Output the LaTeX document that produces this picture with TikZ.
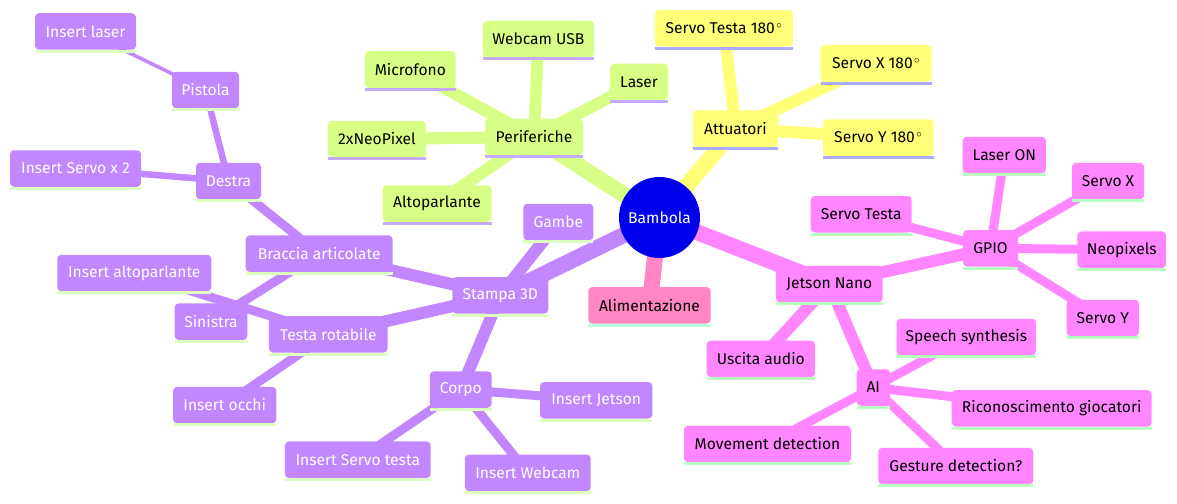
\documentclass[tikz,border=0pt]{standalone}
\usepackage{fontspec}
\setmainfont{Fira Sans}
\usetikzlibrary{backgrounds}
\definecolor{rootBlue}{HTML}{0000EC}
\definecolor{perGreen}{HTML}{D7FF86}
\definecolor{perLine}{HTML}{C6AAFF}
\definecolor{attYellow}{HTML}{FFFF78}
\definecolor{attLine}{HTML}{AAAAFF}
\definecolor{jetPink}{HTML}{FF86FF}
\definecolor{jetLine}{HTML}{B8FFC0}
\definecolor{aliRose}{HTML}{FF86C2}
\definecolor{aliLine}{HTML}{B8FFE0}
\definecolor{staPurple}{HTML}{C286FF}
\definecolor{staLine}{HTML}{DCFFC0}
\newcommand{\degr}{\kern1.5pt$^{\circ}$}
\begin{document}
\begin{tikzpicture}[x=1pt,y=-1pt, every node/.style={font=\fontsize{15.6}{18}\selectfont},
  leaf/.style 2 args={fill=#1,rounded corners=4pt,minimum height=36.5pt,inner xsep=2pt,outer sep=0pt,
    append after command={([yshift=-1.5pt]\tikzlastnode.south west) edge[draw=#2,line width=3pt,rounded corners=0pt] ([yshift=-1.5pt]\tikzlastnode.south east)}},
  per/.style={leaf={perGreen}{perLine}},
  att/.style={leaf={attYellow}{attLine}},
  jet/.style={leaf={jetPink}{jetLine}},
  ali/.style={leaf={aliRose}{aliLine}},
  sta/.style={leaf={staPurple}{staLine},text=white},
  lv1/.style={line width=16pt}, lv2/.style={line width=12pt}, lv3/.style={line width=9pt},
  lv4/.style={line width=6.5pt}, lv5/.style={line width=3.5pt}]
\useasboundingbox (0,0) rectangle (1177,503);
\node[circle,fill=rootBlue,text=white,minimum size=81pt,inner sep=0pt] (bambola) at (659.5,217.5) {Bambola};
% Periferiche
\node[per,minimum width=98pt] (periferiche) at (534,137) {Periferiche};
\node[per,minimum width=111.3pt] (webcam) at (538.3,39) {Webcam USB};
\node[per,minimum width=90.7pt] (microfono) at (410.3,69.5) {Microfono};
\node[per,minimum width=58pt] (laser) at (639,82) {Laser};
\node[per,minimum width=98pt] (neopixel) at (377,139) {2xNeoPixel};
\node[per,minimum width=109pt] (altoparlante) at (437,203.5) {Altoparlante};
% Attuatori
\node[att,minimum width=85pt] (attuatori) at (735.5,128.5) {Attuatori};
\node[att,minimum width=138pt] (servotesta180) at (724,28.3) {Servo Testa 180\degr};
\node[att,minimum width=111pt] (servox180) at (876.2,63.3) {Servo X 180\degr};
\node[att,minimum width=110.7pt] (servoy180) at (878.3,137.5) {Servo Y 180\degr};
% Jetson Nano
\node[jet,minimum width=106.7pt] (jetson) at (829.3,284) {Jetson Nano};
\node[jet,minimum width=55pt] (gpio) at (990.5,248.3) {GPIO};
\node[jet,minimum width=83.3pt] (laseron) at (1004.3,155) {Laser ON};
\node[jet,minimum width=72pt] (servox) at (1108,181) {Servo X};
\node[jet,minimum width=88.7pt] (neopixels) at (1121.8,249.7) {Neopixels};
\node[jet,minimum width=72.3pt] (servoy) at (1102.8,318) {Servo Y};
\node[jet,minimum width=101pt] (servotesta) at (861.2,214.3) {Servo Testa};
\node[jet,minimum width=108.3pt] (uscita) at (760.8,358.8) {Uscita audio};
\node[jet,minimum width=33.3pt] (ai) at (873.3,387.5) {AI};
\node[jet,minimum width=139.3pt] (speech) at (966.3,337) {Speech synthesis};
\node[jet,minimum width=200pt] (riconoscimento) at (1051.7,408.3) {Riconoscimento giocatori};
\node[jet,minimum width=167pt] (movement) at (767.5,444) {Movement detection};
\node[jet,minimum width=155pt] (gesture) at (955.8,466) {Gesture detection?};
% Alimentazione
\node[ali,minimum width=122.3pt] (alimentazione) at (649.5,305.3) {Alimentazione};
% Stampa 3D
\node[sta,minimum width=96pt] (stampa) at (500.3,295.3) {Stampa 3D};
\node[sta,minimum width=70pt] (gambe) at (558.3,222) {Gambe};
\node[sta,minimum width=147pt] (braccia) at (319.2,253.7) {Braccia articolate};
\node[sta,minimum width=65pt] (destra) at (228.5,181) {Destra};
\node[sta,minimum width=67pt] (pistola) at (205.5,90) {Pistola};
\node[sta,minimum width=101pt] (insertlaser) at (85.5,31.5) {Insert laser};
\node[sta,minimum width=131pt] (insertservo) at (75.5,168.5) {Insert Servo x 2};
\node[sta,minimum width=72.7pt] (sinistra) at (211,321.7) {Sinistra};
\node[sta,minimum width=118.7pt] (testa) at (328.3,334.3) {Testa rotabile};
\node[sta,minimum width=154pt] (insertalto) at (134.3,273) {Insert altoparlante};
\node[sta,minimum width=103.3pt] (insertocchi) at (224.7,405) {Insert occhi};
\node[sta,minimum width=61.7pt] (corpo) at (460.8,389.5) {Corpo};
\node[sta,minimum width=112.3pt] (insertjetson) at (596.2,400.3) {Insert Jetson};
\node[sta,minimum width=125.7pt] (insertwebcam) at (527.8,472.8) {Insert Webcam};
\node[sta,minimum width=145.7pt] (insertservotesta) at (357.8,459.7) {Insert Servo testa};
\begin{scope}[on background layer]
\draw[lv1,perGreen] (bambola.center) -- (periferiche.center);
\draw[lv1,attYellow] (bambola.center) -- (attuatori.center);
\draw[lv1,jetPink] (bambola.center) -- (jetson.center);
\draw[lv1,aliRose] (bambola.center) -- (alimentazione.center);
\draw[lv1,staPurple] (bambola.center) -- (stampa.center);
\draw[lv2,perGreen] (periferiche.center) -- (webcam.center);
\draw[lv2,perGreen] (periferiche.center) -- (microfono.center);
\draw[lv2,perGreen] (periferiche.center) -- (laser.center);
\draw[lv2,perGreen] (periferiche.center) -- (neopixel.center);
\draw[lv2,perGreen] (periferiche.center) -- (altoparlante.center);
\draw[lv2,attYellow] (attuatori.center) -- (servotesta180.center);
\draw[lv2,attYellow] (attuatori.center) -- (servox180.center);
\draw[lv2,attYellow] (attuatori.center) -- (servoy180.center);
\draw[lv2,jetPink] (jetson.center) -- (gpio.center);
\draw[lv2,jetPink] (jetson.center) -- (uscita.center);
\draw[lv2,jetPink] (jetson.center) -- (ai.center);
\draw[lv3,jetPink] (gpio.center) -- (laseron.center);
\draw[lv3,jetPink] (gpio.center) -- (servox.center);
\draw[lv3,jetPink] (gpio.center) -- (neopixels.center);
\draw[lv3,jetPink] (gpio.center) -- (servoy.center);
\draw[lv3,jetPink] (gpio.center) -- (servotesta.center);
\draw[lv3,jetPink] (ai.center) -- (speech.center);
\draw[lv3,jetPink] (ai.center) -- (riconoscimento.center);
\draw[lv3,jetPink] (ai.center) -- (gesture.center);
\draw[lv3,jetPink] (ai.center) -- (movement.center);
\draw[lv2,staPurple] (stampa.center) -- (gambe.center);
\draw[lv2,staPurple] (stampa.center) -- (braccia.center);
\draw[lv2,staPurple] (stampa.center) -- (testa.center);
\draw[lv2,staPurple] (stampa.center) -- (corpo.center);
\draw[lv3,staPurple] (braccia.center) -- (destra.center);
\draw[lv3,staPurple] (braccia.center) -- (sinistra.center);
\draw[lv4,staPurple] (destra.center) -- (pistola.center);
\draw[lv4,staPurple] (destra.center) -- (insertservo.center);
\draw[lv5,staPurple] (pistola.center) -- (insertlaser.center);
\draw[lv3,staPurple] (testa.center) -- (insertalto.center);
\draw[lv3,staPurple] (testa.center) -- (insertocchi.center);
\draw[lv3,staPurple] (corpo.center) -- (insertjetson.center);
\draw[lv3,staPurple] (corpo.center) -- (insertwebcam.center);
\draw[lv3,staPurple] (corpo.center) -- (insertservotesta.center);
\end{scope}
\end{tikzpicture}
\end{document}
